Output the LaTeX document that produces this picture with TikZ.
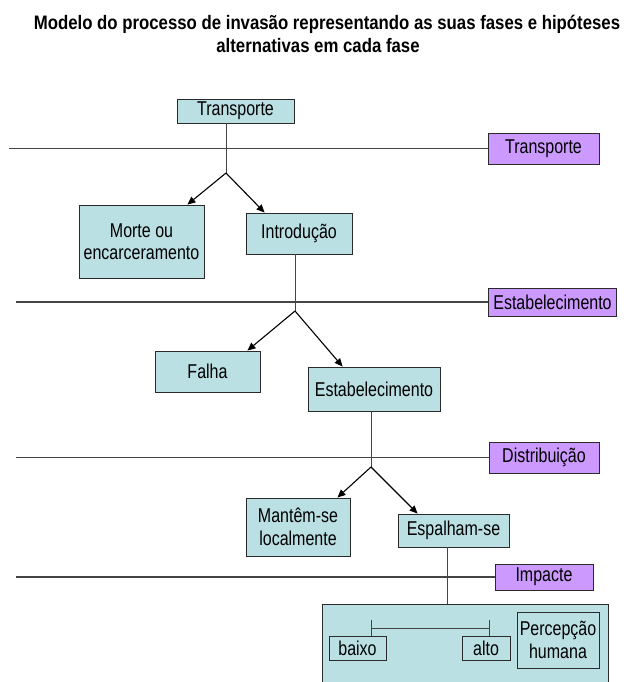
\documentclass[tikz,border=0pt]{standalone}
\usepackage{fontspec}
\setmainfont{Liberation Sans}[FakeStretch=0.8]
\newfontfamily\titlefont{Liberation Sans}[FakeStretch=0.86]
\usetikzlibrary{arrows.meta}
\definecolor{tealfill}{HTML}{BBE0E3}
\definecolor{purpfill}{HTML}{CC99FF}
\definecolor{edgecol}{HTML}{2A2A2A}
\definecolor{lincol}{HTML}{444444}
\tikzset{
  bx/.style={draw=edgecol, line width=0.9pt, fill=tealfill, inner sep=0pt, align=center,
    font=\fontsize{20}{22.5}\selectfont},
  px/.style={bx, fill=purpfill},
  ibx/.style={draw=edgecol, line width=0.8pt, inner sep=0pt, align=center,
    font=\fontsize{20}{22.5}\selectfont},
  hline/.style={draw=lincol, line width=1.2pt},
  vline/.style={draw=lincol, line width=1pt},
  arr/.style={draw=black, line width=1.1pt, -{Triangle[length=8pt,width=7pt]}},
  ttl/.style={font=\titlefont\bfseries\fontsize{19.5}{23}\selectfont, anchor=base, inner sep=0pt}
}
\begin{document}
\begin{tikzpicture}[x=1pt,y=-1pt]
\useasboundingbox[fill=white] (0,0) rectangle (625,682);

% title
\node[ttl] (title1) at (327,30) {Modelo do processo de invasão representando as suas fases e hipóteses};
\node[ttl] (title2) at (318,53) {alternativas em cada fase};

% phase labels (purple)
\node[px, minimum width=111pt, minimum height=31pt] (p1) at (543.5,148.5) {Transporte};
\node[px, minimum width=128pt, minimum height=28pt] (p2) at (552.5,302) {Estabelecimento};
\node[px, minimum width=110pt, minimum height=31pt] (p3) at (544,457.5) {Distribuição};
\node[px, minimum width=98pt, minimum height=26pt] (p4) at (544,577) {Impacte};

% horizontal phase lines
\coordinate (l1) at (9,148.5);
\coordinate (l2) at (16,302);
\coordinate (l3) at (16,457.5);
\coordinate (l4) at (16,577);
\draw[hline] (l1) -- (p1.west);
\draw[hline] (l2) -- (p2.west);
\draw[hline] (l3) -- (p3.west);
\draw[hline] (l4) -- (p4.west);

% boxes
\node[bx, minimum width=117pt, minimum height=24pt] (t0) at (235.5,111) {Transporte};
\node[bx, minimum width=125pt, minimum height=73pt] (morte) at (141.5,241.5) {Morte ou\\encarceramento};
\node[bx, minimum width=106pt, minimum height=41pt] (intro) at (299,233.5) {Introdução};
\node[bx, minimum width=105pt, minimum height=41pt] (falha) at (207.5,371.5) {Falha};
\node[bx, minimum width=132pt, minimum height=44pt] (estab) at (374,389) {Estabelecimento};
\node[bx, minimum width=104pt, minimum height=58pt] (mant) at (298,527) {Mantêm-se\\localmente};
\node[bx, minimum width=111pt, minimum height=33pt] (espa) at (453.5,530.5) {Espalham-se};
\node[bx, minimum width=286pt, minimum height=92pt, anchor=north west] (big) at (322,604) {};

% inner boxes of impact
\node[ibx, minimum width=57pt, minimum height=24pt] (baixo) at (357.5,648) {baixo};
\node[ibx, minimum width=48pt, minimum height=24pt] (alto) at (486,648) {alto};
\node[ibx, minimum width=82pt, minimum height=56pt] (perc) at (558,640) {Percepção\\humana};

% branch points
\coordinate (b1) at (226,173);
\coordinate (b2) at (295,311);
\coordinate (b3) at (371,467);

% connectors
\draw[vline] (t0.south -| b1) -- (b1);
\draw[arr] (b1) -- ([xshift=-17pt]morte.north east);
\draw[arr] (b1) -- ([xshift=19pt]intro.north west);

\draw[vline] (intro.south -| b2) -- (b2);
\draw[arr] (b2) -- ([xshift=-13pt]falha.north east);
\draw[arr] (b2) -- ([xshift=35pt]estab.north west);

\draw[vline] (estab.south -| b3) -- (b3);
\draw[arr] (b3) -- ([xshift=-13pt]mant.north east);
\draw[arr] (b3) -- ([xshift=20pt]espa.north west);

\coordinate (e1) at (447,0);
\draw[vline] (espa.south -| e1) -- (big.north -| e1);

% scale bracket
\coordinate (k1) at (371,620);
\coordinate (k2) at (489,620);
\coordinate (m1) at (371,628);
\coordinate (m2) at (489,628);
\draw[vline, line width=0.8pt] (k1) -- (k1 |- baixo.north);
\draw[vline, line width=0.8pt] (k2) -- (k2 |- alto.north);
\draw[vline, line width=0.8pt] (m1) -- (m2);
\end{tikzpicture}
\end{document}
